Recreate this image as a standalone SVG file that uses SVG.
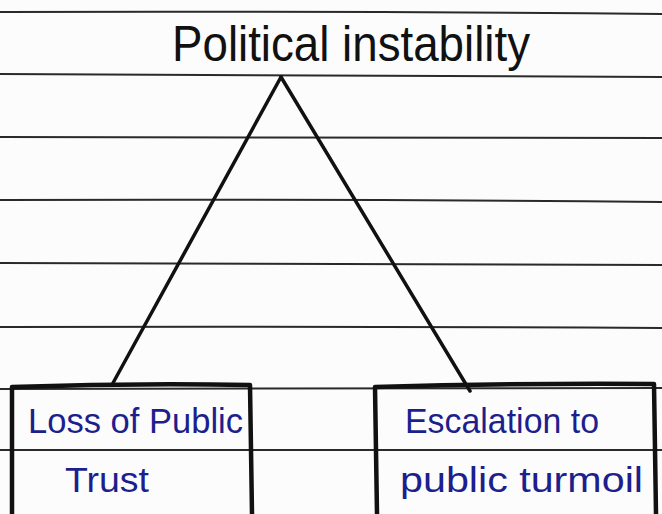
<svg xmlns="http://www.w3.org/2000/svg" width="662" height="514" viewBox="0 0 662 514">
  <style>
    .rule { fill: none; stroke: #2a2a2a; stroke-width: 2; }
    .edge { fill: none; stroke: #111; stroke-width: 3.5; stroke-linecap: round; }
    .box { fill: none; stroke: #111; stroke-width: 4.5; stroke-linejoin: round; }
    .title { font-family: "Liberation Sans", Arial, sans-serif; font-size: 50px; fill: #111; }
    .label { font-family: "Liberation Sans", Arial, sans-serif; font-size: 35px; fill: #1c1f8c; }
  </style>

  <!-- paper -->
  <rect x="0" y="0" width="662" height="514" fill="#fcfcfc"/>

  <!-- ruled lines -->
  <g id="rules">
    <path class="rule" d="M0 12 Q330 11 662 14"/>
    <path class="rule" d="M0 74 Q330 76 662 77"/>
    <path class="rule" d="M0 137 Q330 137 662 138"/>
    <path class="rule" d="M0 200 Q330 199 662 202"/>
    <path class="rule" d="M0 263 Q330 263 662 265"/>
    <path class="rule" d="M0 327 Q330 326 662 328"/>
    <path class="rule" d="M0 389 Q330 388 662 388"/>
    <path class="rule" d="M0 450 Q330 451 662 450"/>
  </g>

  <!-- connectors -->
  <g id="connectors">
    <path class="edge" d="M281 77 L113 383"/>
    <path class="edge" d="M281 77 L470 391"/>
  </g>

  <!-- root node -->
  <g id="node-political-instability">
    <text class="title" x="172" y="61" textLength="358" lengthAdjust="spacingAndGlyphs">Political instability</text>
  </g>

  <!-- left child -->
  <g id="node-loss-of-public-trust">
    <path class="box" d="M12 514 L12 387 Q130 383 250 385 L252 514"/>
    <text class="label" x="28" y="433" textLength="215" lengthAdjust="spacingAndGlyphs">Loss of Public</text>
    <text class="label" x="65" y="492" textLength="84" lengthAdjust="spacingAndGlyphs">Trust</text>
  </g>

  <!-- right child -->
  <g id="node-escalation">
    <path class="box" d="M377 514 L375 387 Q515 383 654 384 L656 514"/>
    <text class="label" x="405" y="433" textLength="194" lengthAdjust="spacingAndGlyphs">Escalation to</text>
    <text class="label" x="400" y="492" textLength="243" lengthAdjust="spacingAndGlyphs">public turmoil</text>
  </g>
</svg>
